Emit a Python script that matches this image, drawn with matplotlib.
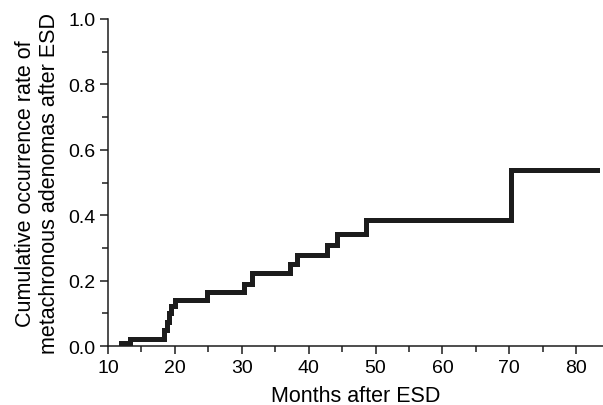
import matplotlib
matplotlib.use('Agg')
import matplotlib.pyplot as plt
from matplotlib.ticker import MultipleLocator

plt.rcParams['font.family'] = ['Liberation Sans', 'DejaVu Sans']

# step curve: (month, cumulative rate)
months = [12.0, 13.3, 18.4, 18.8, 19.1, 19.4, 20.0, 24.8, 30.4, 31.5, 37.2, 38.2, 42.7, 44.2, 48.5, 70.3, 83.1]
rate = [0.010, 0.021, 0.050, 0.075, 0.100, 0.122, 0.142, 0.165, 0.190, 0.225, 0.252, 0.278, 0.308, 0.342, 0.386, 0.539, 0.539]

X_LABEL = 'Months after ESD'
Y_LABEL = 'Cumulative occurrence rate of\nmetachronous adenomas after ESD'

fig = plt.figure(figsize=(6.03, 4.06), dpi=100)
ax = fig.add_axes([0.179, 0.145, 0.821, 0.806])

ax.step(months, rate, where='post', color='#1c1c1c', linewidth=3.6, solid_joinstyle='miter')

ax.set_xlim(10, 84)
ax.set_ylim(0, 1.0)
ax.xaxis.set_major_locator(MultipleLocator(10))
ax.xaxis.set_minor_locator(MultipleLocator(5))
ax.yaxis.set_major_locator(MultipleLocator(0.2))
ax.yaxis.set_minor_locator(MultipleLocator(0.1))
ax.yaxis.set_major_formatter(plt.FuncFormatter(lambda v, p: f'{v:.1f}'))

for s in ['top', 'right']:
    ax.spines[s].set_visible(False)
for s in ['left', 'bottom']:
    ax.spines[s].set_linewidth(1.1)
    ax.spines[s].set_color('#1c1c1c')

ax.tick_params(which='major', length=6, width=1.1, color='#1c1c1c', labelsize=14, pad=3)
ax.tick_params(which='minor', length=4, width=1.1, color='#1c1c1c')
ax.set_xlabel(X_LABEL, fontsize=15.5, labelpad=6.5)
ax.set_ylabel(Y_LABEL, fontsize=15.5, linespacing=1.15, labelpad=6)

fig.savefig('out.png', dpi=100)
